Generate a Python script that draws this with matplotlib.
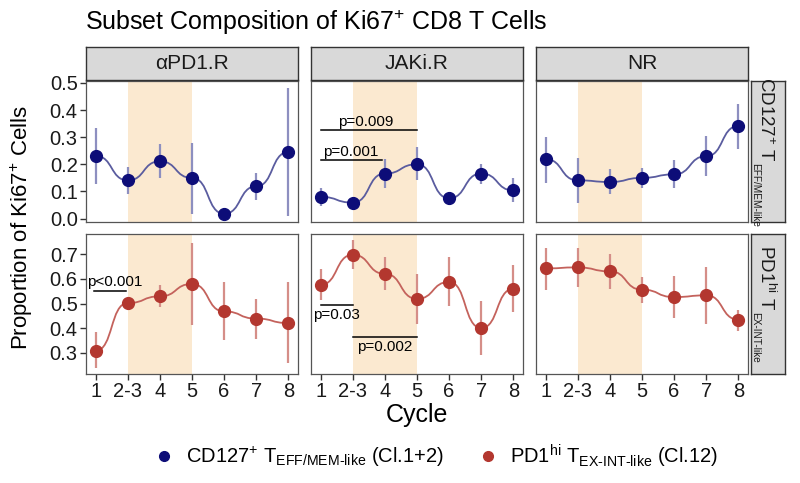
import matplotlib.pyplot as plt
from matplotlib.path import Path
from matplotlib.patches import PathPatch
from matplotlib.lines import Line2D

plt.rcParams['font.family'] = ['Liberation Sans', 'DejaVu Sans']
plt.rcParams['mathtext.fontset'] = 'custom'
plt.rcParams['mathtext.rm'] = 'Liberation Sans'
plt.rcParams['mathtext.it'] = 'Liberation Sans:italic'
plt.rcParams['mathtext.bf'] = 'Liberation Sans:bold'

cycles = ["1", "2-3", "4", "5", "6", "7", "8"]
groups = ["αPD1.R", "JAKi.R", "NR"]

# CD127+ T EFF/MEM-like (Cl.1+2): mean, lower and upper error bar
cd127_apd1 = [0.231, 0.141, 0.211, 0.150, 0.018, 0.119, 0.245]
cd127_apd1_lo = [0.129, 0.092, 0.150, 0.018, 0.012, 0.068, 0.010]
cd127_apd1_hi = [0.332, 0.190, 0.274, 0.279, 0.024, 0.168, 0.482]
cd127_jaki = [0.080, 0.059, 0.166, 0.200, 0.075, 0.166, 0.104]
cd127_jaki_lo = [0.046, 0.053, 0.113, 0.141, 0.069, 0.127, 0.061]
cd127_jaki_hi = [0.111, 0.065, 0.219, 0.264, 0.081, 0.203, 0.148]
cd127_nr = [0.219, 0.141, 0.135, 0.150, 0.163, 0.230, 0.341]
cd127_nr_lo = [0.131, 0.059, 0.090, 0.111, 0.113, 0.156, 0.256]
cd127_nr_hi = [0.301, 0.224, 0.182, 0.187, 0.215, 0.305, 0.424]

# PD1hi T EX-INT-like (Cl.12)
pd1_apd1 = [0.309, 0.502, 0.529, 0.579, 0.468, 0.439, 0.421]
pd1_apd1_lo = [0.239, 0.495, 0.484, 0.412, 0.354, 0.358, 0.260]
pd1_apd1_hi = [0.383, 0.509, 0.576, 0.744, 0.585, 0.519, 0.587]
pd1_jaki = [0.576, 0.697, 0.620, 0.519, 0.587, 0.401, 0.559]
pd1_jaki_lo = [0.515, 0.639, 0.553, 0.417, 0.491, 0.293, 0.464]
pd1_jaki_hi = [0.639, 0.758, 0.688, 0.619, 0.686, 0.511, 0.654]
pd1_nr = [0.642, 0.646, 0.630, 0.556, 0.526, 0.533, 0.435]
pd1_nr_lo = [0.556, 0.565, 0.559, 0.502, 0.441, 0.417, 0.390]
pd1_nr_hi = [0.724, 0.724, 0.701, 0.607, 0.610, 0.647, 0.475]

# p-value brackets: (row, col, x start, x end, y, label, text x, above?)
pvals = [
    (0, 1, 0, 3, 0.326, "p=0.009", 1.41, True),
    (0, 1, 0, 1.9, 0.215, "p=0.001", 0.93, True),
    (1, 0, -0.05, 0.95, 0.552, "p<0.001", 0.6, True),
    (1, 1, 0, 1, 0.492, "p=0.03", 0.5, False),
    (1, 1, 1, 3, 0.363, "p=0.002", 2.0, False),
]

rows = [
    [(cd127_apd1, cd127_apd1_lo, cd127_apd1_hi),
     (cd127_jaki, cd127_jaki_lo, cd127_jaki_hi),
     (cd127_nr, cd127_nr_lo, cd127_nr_hi)],
    [(pd1_apd1, pd1_apd1_lo, pd1_apd1_hi),
     (pd1_jaki, pd1_jaki_lo, pd1_jaki_hi),
     (pd1_nr, pd1_nr_lo, pd1_nr_hi)],
]
row_colors = [("#0d0d78", "#5a5c9f", "#8d8fc0"),
              ("#b3372f", "#c4625c", "#d58e88")]
row_ylim = [(-0.0125, 0.507), (0.215, 0.781)]
row_ticks = [[0.0, 0.1, 0.2, 0.3, 0.4, 0.5], [0.3, 0.4, 0.5, 0.6, 0.7]]
row_strip = [("CD127$^{+}$ T", "EFF/MEM-like"),
             ("PD1$^{\\mathrm{hi}}$ T", "EX-INT-like")]

W, H = 800, 483
fig = plt.figure(figsize=(W / 100, H / 100), dpi=100)


def smooth_path(x, y, k=0.55):
    verts = [(x[0], y[0])]
    codes = [Path.MOVETO]
    for i in range(len(x) - 1):
        d = (x[i + 1] - x[i]) * k
        verts += [(x[i] + d, y[i]), (x[i + 1] - d, y[i + 1]), (x[i + 1], y[i + 1])]
        codes += [Path.CURVE4] * 3
    return Path(verts, codes)


col_left = [86, 311, 536]
row_top = [81, 234]
row_h = [141, 140]
pw = 212
xs = list(range(len(cycles)))
axes = {}

for r in range(2):
    for c in range(3):
        ax = fig.add_axes([col_left[c] / W, 1 - (row_top[r] + row_h[r]) / H, pw / W, row_h[r] / H])
        axes[(r, c)] = ax
        mean, lo, hi = rows[r][c]
        dot, line, err = row_colors[r]
        ax.axvspan(1, 3, color="#fbe9d0", lw=0, zorder=0)
        ax.vlines(xs, lo, hi, color=err, lw=1.6, zorder=2)
        ax.add_patch(PathPatch(smooth_path(xs, mean), fill=False, ec=line, lw=1.3, zorder=3))
        ax.plot(xs, mean, "o", color=dot, ms=8.5, zorder=4)
        ax.set_xlim(-0.3, 6.3)
        ax.set_ylim(*row_ylim[r])
        ax.set_xticks(xs)
        ax.set_xticklabels(cycles)
        ax.set_yticks(row_ticks[r])
        ax.set_yticklabels([f"{t:.1f}" for t in row_ticks[r]])
        ax.tick_params(length=4, width=1, color="#333333", labelsize=14.5,
                       labelcolor="#1a1a1a", pad=2)
        if r == 0:
            ax.tick_params(bottom=False, labelbottom=False)
        if c > 0:
            ax.tick_params(left=False, labelleft=False)
        for s in ax.spines.values():
            s.set_color("#555555")
            s.set_linewidth(0.9)

        # top strips
        if r == 0:
            sax = fig.add_axes([col_left[c] / W, 1 - 80 / H, pw / W, 33 / H])
            sax.set_facecolor("#d9d9d9")
            sax.set_xticks([])
            sax.set_yticks([])
            for s in sax.spines.values():
                s.set_color("#333333")
                s.set_linewidth(1)
            sax.text(0.5, 0.5, groups[c], ha="center", va="center", fontsize=15,
                     color="#1a1a1a", transform=sax.transAxes)

for (r, c, x0, x1, y, label, tx, above) in pvals:
    ax = axes[(r, c)]
    ax.plot([x0, x1], [y, y], color="black", lw=1.1, zorder=5)
    ax.annotate(label, (tx, y), xytext=(0, 1 if above else -2), textcoords="offset points",
                ha="center", va="bottom" if above else "top", fontsize=11, zorder=5)

# right strips
renderer = fig.canvas.get_renderer()
for r in range(2):
    sax = fig.add_axes([751 / W, 1 - (row_top[r] + row_h[r]) / H, 34 / W, row_h[r] / H])
    sax.set_facecolor("#d9d9d9")
    sax.set_xticks([])
    sax.set_yticks([])
    for s in sax.spines.values():
        s.set_color("#333333")
        s.set_linewidth(1)
    main, sub = row_strip[r]
    t1 = fig.text(0, 0, main, rotation=-90, rotation_mode="anchor", ha="left",
                  va="baseline", fontsize=13.5, color="#1a1a1a")
    t2 = fig.text(0, 0, sub, rotation=-90, rotation_mode="anchor", ha="left",
                  va="baseline", fontsize=7.2, color="#1a1a1a")
    h1 = t1.get_window_extent(renderer).height / H
    h2 = t2.get_window_extent(renderer).height / H
    gap = 1 / H
    yc = 1 - (row_top[r] + row_h[r] / 2) / H
    ytop = yc + (h1 + gap + h2) / 2
    t1.set_position((760 / W, ytop))
    t2.set_position((752.5 / W, ytop - h1 - gap))

fig.text(85 / W, 1 - 22 / H, "Subset Composition of Ki67$^{+}$ CD8 T Cells",
         ha="left", va="center", fontsize=18)
fig.text(22 / W, 1 - 228 / H, "Proportion of Ki67$^{+}$ Cells", rotation=90,
         ha="center", va="center", fontsize=16)
fig.text(417 / W, 1 - 415 / H, "Cycle", ha="center", va="center", fontsize=18)

handles = [Line2D([], [], ls="", marker="o", ms=7, color=row_colors[0][0]),
           Line2D([], [], ls="", marker="o", ms=7, color=row_colors[1][0])]
labels = ["CD127$^{+}$ T$_{\\mathrm{EFF/MEM‐like}}$ (Cl.1+2)",
          "PD1$^{\\mathrm{hi}}$ T$_{\\mathrm{EX‐INT‐like}}$ (Cl.12)"]
fig.legend(handles, labels, loc="center", bbox_to_anchor=(436 / W, 1 - 456 / H), ncol=2,
           frameon=False, fontsize=14.5, handlelength=1, handletextpad=0.6,
           columnspacing=1.7)

fig.savefig("out.png", dpi=100)
